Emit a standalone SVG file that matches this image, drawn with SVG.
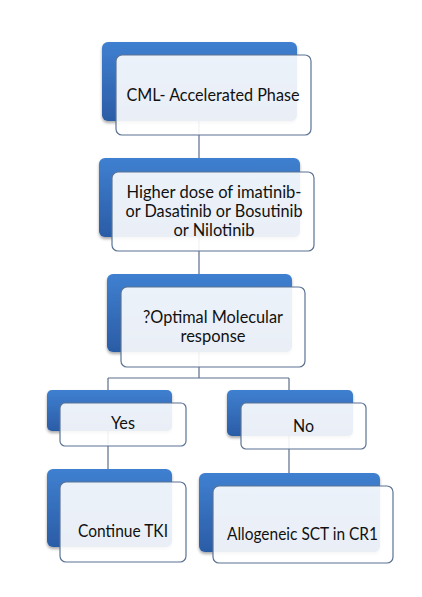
<svg xmlns="http://www.w3.org/2000/svg" width="422" height="597" viewBox="0 0 422 597">
<defs>
<linearGradient id="bg" x1="0" y1="0" x2="0" y2="1">
<stop offset="0" stop-color="#3f80d0"/>
<stop offset="1" stop-color="#2b5ca6"/>
</linearGradient>
<filter id="sh" x="-10%" y="-10%" width="125%" height="130%">
<feGaussianBlur in="SourceAlpha" stdDeviation="1.5"/>
<feOffset dx="0" dy="2" result="b"/>
<feComponentTransfer><feFuncA type="linear" slope="0.35"/></feComponentTransfer>
<feMerge><feMergeNode/><feMergeNode in="SourceGraphic"/></feMerge>
</filter>
</defs>
<style>
.blue{fill:url(#bg);filter:url(#sh)}
.card{fill:#ffffff;fill-opacity:0.9;stroke:#5b7393;stroke-width:1.2}
.lbl{font-family:Lato,"Open Sans","Liberation Sans",sans-serif;font-size:17px;fill:#111111;text-anchor:middle}
.conn{stroke:#5b6f8a;stroke-width:1.2;fill:none}
</style>
<rect width="422" height="597" fill="#ffffff"/>
<g id="connectors">
<line class="conn" x1="199" y1="100" x2="199" y2="160"/>
<line class="conn" x1="199" y1="235" x2="199" y2="276"/>
<path class="conn" d="M199 345 V378 M108 378 H289 M108 378 V392 M289 378 V392"/>
<line class="conn" x1="108" y1="430" x2="108" y2="471"/>
<line class="conn" x1="289" y1="430" x2="289" y2="475"/>
</g>
<g id="n1">
<rect class="blue" x="102" y="42" width="195" height="79" rx="6"/>
<rect class="card" x="116" y="55" width="195" height="80" rx="6"/>
<text class="lbl" x="213" y="101" textLength="173" lengthAdjust="spacingAndGlyphs">CML- Accelerated Phase</text>
</g>
<g id="n2">
<rect class="blue" x="99" y="158" width="201" height="79" rx="6"/>
<rect class="card" x="112" y="172" width="202" height="79" rx="6"/>
<text class="lbl" x="214" y="198" textLength="175" lengthAdjust="spacingAndGlyphs">Higher dose of imatinib-</text>
<text class="lbl" x="214" y="217" textLength="177" lengthAdjust="spacingAndGlyphs">or Dasatinib or Bosutinib</text>
<text class="lbl" x="214" y="236" textLength="81" lengthAdjust="spacingAndGlyphs">or Nilotinib</text>
</g>
<g id="n3">
<rect class="blue" x="107" y="274" width="185" height="78" rx="6"/>
<rect class="card" x="121" y="287" width="184" height="80" rx="6"/>
<text class="lbl" x="213" y="323" textLength="140" lengthAdjust="spacingAndGlyphs">?Optimal Molecular</text>
<text class="lbl" x="213" y="342" textLength="65" lengthAdjust="spacingAndGlyphs">response</text>
</g>
<g id="n4">
<rect class="blue" x="47" y="390" width="125" height="41" rx="5"/>
<rect class="card" x="60" y="403" width="126" height="43" rx="5"/>
<text class="lbl" x="123" y="429" textLength="24" lengthAdjust="spacingAndGlyphs">Yes</text>
</g>
<g id="n5">
<rect class="blue" x="227" y="390" width="126" height="46" rx="5"/>
<rect class="card" x="241" y="403" width="125" height="46" rx="5"/>
<text class="lbl" x="303.5" y="432" textLength="21" lengthAdjust="spacingAndGlyphs">No</text>
</g>
<g id="n6">
<rect class="blue" x="47" y="469" width="125" height="78" rx="6"/>
<rect class="card" x="60" y="482" width="126" height="80" rx="6"/>
<text class="lbl" x="123" y="537" textLength="90" lengthAdjust="spacingAndGlyphs">Continue TKI</text>
</g>
<g id="n7">
<rect class="blue" x="199" y="473" width="181" height="79" rx="6"/>
<rect class="card" x="213" y="486" width="180" height="77" rx="6"/>
<text class="lbl" x="302.5" y="540" textLength="151" lengthAdjust="spacingAndGlyphs">Allogeneic SCT in CR1</text>
</g>
</svg>
